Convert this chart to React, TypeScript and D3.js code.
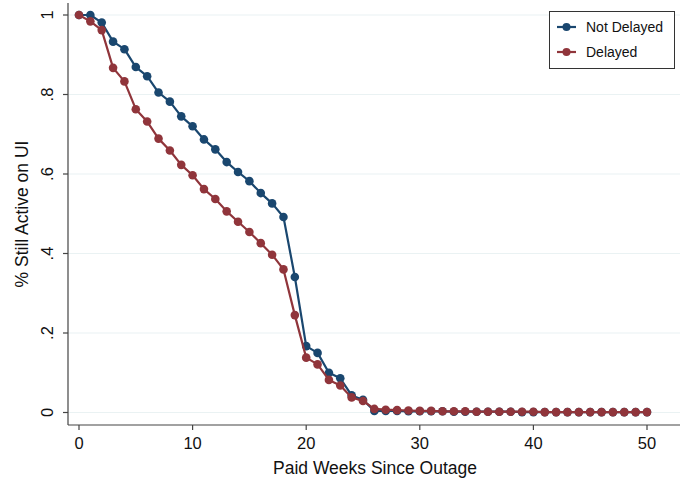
import React from "react";
import * as d3 from "d3";

const weeks: number[] = Array.from({ length: 51 }, (_, i) => i);
const notDelayed: number[] = [
  1.0, 1.0, 0.981, 0.933, 0.914, 0.869, 0.846, 0.805, 0.782, 0.745, 0.72,
  0.687, 0.662, 0.63, 0.605, 0.582, 0.552, 0.526, 0.492, 0.341, 0.167, 0.15,
  0.1, 0.086, 0.043, 0.032, 0.004, 0.004, 0.004, 0.003, 0.003, 0.003, 0.003,
  0.002, 0.002, 0.002, 0.002, 0.002, 0.002, 0.001, 0.001, 0.001, 0.001, 0.001,
  0.001, 0.001, 0.001, 0.001, 0.001, 0.001, 0.001,
];
const delayed: number[] = [
  1.0, 0.984, 0.962, 0.867, 0.833, 0.763, 0.732, 0.689, 0.659, 0.623, 0.597,
  0.562, 0.537, 0.506, 0.48, 0.454, 0.426, 0.397, 0.36, 0.245, 0.138, 0.121,
  0.082, 0.068, 0.038, 0.029, 0.009, 0.007, 0.006, 0.005, 0.004, 0.004, 0.003,
  0.003, 0.003, 0.002, 0.002, 0.002, 0.002, 0.002, 0.002, 0.001, 0.001, 0.001,
  0.001, 0.001, 0.001, 0.001, 0.001, 0.001, 0.001,
];
const xTicks: number[] = [0, 10, 20, 30, 40, 50];
const yTicks: number[] = [0, 0.2, 0.4, 0.6, 0.8, 1];
const yTickLabels: string[] = ["0", ".2", ".4", ".6", ".8", "1"];
const seriesNames: string[] = ["Not Delayed", "Delayed"];
const seriesColors: string[] = ["#1a476f", "#90353b"];

const W = 686;
const H = 478;
const left = 68;
const right = 680;
const top = 3;
const bottom = 425;

export default function App() {
  const x = d3.scaleLinear().domain([0, 50]).range([79, 647]);
  const y = d3.scaleLinear().domain([0, 1]).range([412.5, 15]);
  const font = "'Liberation Sans', Arial, sans-serif";
  const series = [notDelayed, delayed];
  const line = d3
    .line<number>()
    .x((_, i) => x(weeks[i]))
    .y((d) => y(d));

  return (
    <svg
      width={W}
      height={H}
      style={{ position: "absolute", left: 0, top: 0, background: "#fff" }}
      fontFamily={font}
    >
      <rect x={0} y={0} width={W} height={H} fill="#fff" />
      {yTicks.map((t) => (
        <line
          key={"g" + t}
          x1={left}
          x2={right}
          y1={y(t)}
          y2={y(t)}
          stroke="#eaf2f3"
          strokeWidth={1.2}
        />
      ))}
      {series.map((s, k) => (
        <g key={"s" + k}>
          <path
            d={line(s) || ""}
            fill="none"
            stroke={seriesColors[k]}
            strokeWidth={2.2}
            strokeLinejoin="round"
          />
          {s.map((v, i) => (
            <circle
              key={i}
              cx={x(weeks[i])}
              cy={y(v)}
              r={4.3}
              fill={seriesColors[k]}
            />
          ))}
        </g>
      ))}
      {/* axes */}
      <line x1={left} x2={left} y1={top} y2={bottom} stroke="#444" strokeWidth={1.2} />
      <line x1={left} x2={right} y1={bottom} y2={bottom} stroke="#444" strokeWidth={1.2} />
      {yTicks.map((t, i) => (
        <g key={"yt" + t}>
          <line x1={left - 5} x2={left} y1={y(t)} y2={y(t)} stroke="#444" strokeWidth={1.2} />
          <text
            transform={`translate(53,${y(t)}) rotate(-90)`}
            textAnchor="middle"
            fontSize={16.5}
            fill="#111"
          >
            {yTickLabels[i]}
          </text>
        </g>
      ))}
      {xTicks.map((t) => (
        <g key={"xt" + t}>
          <line x1={x(t)} x2={x(t)} y1={bottom} y2={bottom + 5} stroke="#444" strokeWidth={1.2} />
          <text x={x(t)} y={448.5} textAnchor="middle" fontSize={16.5} fill="#111">
            {t}
          </text>
        </g>
      ))}
      <text x={375} y={473.5} textAnchor="middle" fontSize={17.5} fill="#111">
        Paid Weeks Since Outage
      </text>
      <text
        transform={`translate(28,${(top + bottom) / 2}) rotate(-90)`}
        textAnchor="middle"
        fontSize={17.5}
        fill="#111"
      >
        % Still Active on UI
      </text>
      {/* legend */}
      <rect x={549.5} y={11.5} width={125} height={57} fill="#fff" stroke="#333" strokeWidth={1} />
      {seriesNames.map((n, k) => (
        <g key={"l" + k}>
          <line
            x1={557}
            x2={576}
            y1={27 + k * 25}
            y2={27 + k * 25}
            stroke={seriesColors[k]}
            strokeWidth={2.2}
          />
          <circle cx={566.5} cy={27 + k * 25} r={4} fill={seriesColors[k]} />
          <text x={586} y={32 + k * 25} fontSize={14} fill="#111">
            {n}
          </text>
        </g>
      ))}
    </svg>
  );
}
